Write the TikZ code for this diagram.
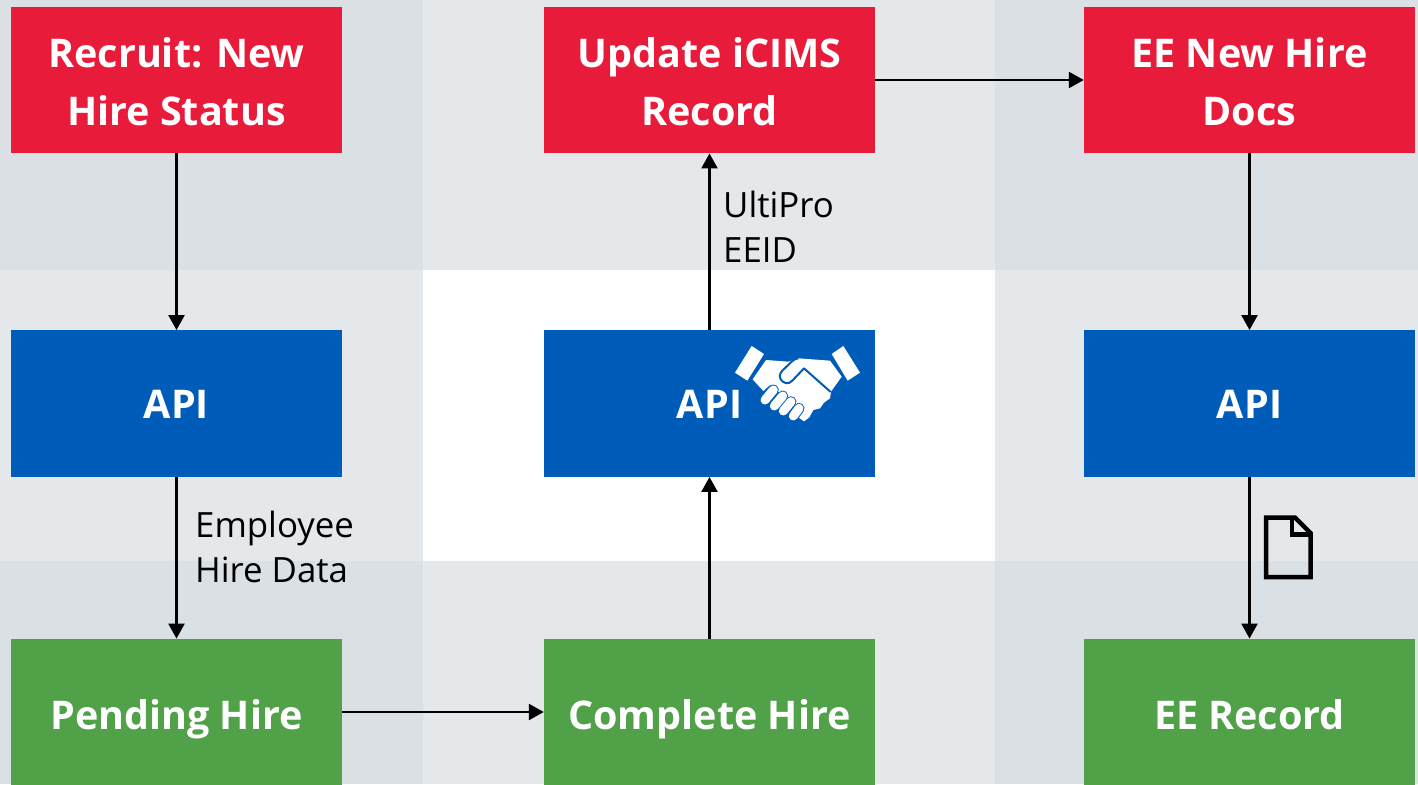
\documentclass[tikz,border=0pt]{standalone}
\usepackage{fontspec}
\setmainfont{Open Sans}
\usetikzlibrary{arrows.meta}
\definecolor{bgdark}{HTML}{DAE0E4}
\definecolor{bglight}{HTML}{E4E8EB}
\definecolor{redbox}{HTML}{E81B3A}
\definecolor{bluebox}{HTML}{005CB9}
\definecolor{greenbox}{HTML}{51A149}
\newcommand\dropln[1]{\raisebox{-2pt}[\height][\depth]{#1}}
\tikzset{
  x=1pt,y=-1pt,
  flowbox/.style={minimum width=331pt,minimum height=146.5pt,inner sep=0pt,align=center,text=white,
    font=\fontsize{39.5}{58}\selectfont\bfseries},
  redflow/.style={flowbox,fill=redbox},
  blueflow/.style={flowbox,fill=bluebox,text height=29pt,text depth=0pt},
  greenflow/.style={flowbox,fill=greenbox,text height=34pt,text depth=0pt},
  conn/.style={black,line width=2.4pt,-{Triangle[length=15pt,width=16pt]}},
  lbl/.style={anchor=west,align=left,inner sep=0pt,text=black,font=\fontsize{34.8}{45}\selectfont},
}
\begin{document}
\begin{tikzpicture}
\useasboundingbox (0,0) rectangle (1418,784);
% background grid
\fill[bglight] (0,0) rectangle (1418,784);
\fill[bgdark] (0,0) rectangle (423,270);
\fill[bgdark] (995,0) rectangle (1418,270);
\fill[bgdark] (0,561) rectangle (423,784);
\fill[bgdark] (995,561) rectangle (1418,784);
\fill[white] (423,270) rectangle (995,561);
% boxes
\node[redflow] (recruit) at (176.5,80) {\dropln{Recruit: New}\\\dropln{Hire Status}};
\node[redflow] (update) at (709.5,80) {\dropln{Update iCIMS}\\\dropln{Record}};
\node[redflow] (docs) at (1249.5,80) {\dropln{EE New Hire}\\\dropln{Docs}};
\node[blueflow] (api1) at (176.5,403.5) {API};
\node[blueflow] (api2) at (709.5,403.5) {API};
\node[blueflow] (api3) at (1249.5,403.5) {API};
\node[greenflow] (pending) at (176.5,712) {Pending Hire};
\node[greenflow] (complete) at (709.5,712) {Complete Hire};
\node[greenflow] (eerec) at (1249.5,712) {EE Record};
% connectors
\draw[conn] (recruit) -- (api1);
\draw[conn] (api1) -- (pending);
\draw[conn] (pending) -- (complete);
\draw[conn] (complete) -- (api2);
\draw[conn] (api2) -- (update);
\draw[conn] (update) -- (docs);
\draw[conn] (docs) -- (api3);
\draw[conn] (api3) -- (eerec);
% labels
\node[lbl] (hiredata) at (195,547) {Employee\\Hire Data};
\node[lbl] (eeid) at (723,227) {UltiPro\\EEID};
% document icon
\draw[black,line width=4.5pt,miter limit=10,line join=miter]
  (1266,517.5) -- (1295,517.5) -- (1310.5,533) -- (1310.5,577) -- (1266,577) -- cycle;
\draw[black,line width=4.5pt] (1292,517.5) -- (1292,534.5) -- (1309,534.5);
% handshake icon
\begin{scope}[shift={(730,330)},x=0.3333pt,y=-0.3333pt]
  \fill[white] (65,48) -- (102,72) -- (52,152) -- (15,128) -- cycle;
  \fill[white] (340,48) -- (305,72) -- (353,152) -- (390,128) -- cycle;
  \fill[white] (108,90) -- (175,95) -- (205,85) -- (300,92) -- (335,140) -- (303,185)
     -- (300,205) -- (282,218) -- (270,235) -- (250,240) -- (238,262) -- (222,274)
     -- (205,262) -- (150,190) -- (120,165) -- (100,183) -- (68,148) -- cycle;
  \draw[bluebox,line width=2pt,line join=round,fill=white]
     (302,186) -- (222,115) -- (187,152) .. controls (175,165) and (160,160) .. (152,148)
     .. controls (147,138) and (150,130) .. (157,122) -- (185,95) .. controls (192,88) and (198,85) .. (205,85);
  \draw[bluebox,line width=11pt,line cap=round] (105,210) -- (130,180);
  \draw[bluebox,line width=11pt,line cap=round] (133,228) -- (158,198);
  \draw[bluebox,line width=11pt,line cap=round] (160,243) -- (183,215);
  \draw[bluebox,line width=11pt,line cap=round] (190,258) -- (207,235);
  \draw[white,line width=9pt,line cap=round] (105,210) -- (130,180);
  \draw[white,line width=9pt,line cap=round] (133,228) -- (158,198);
  \draw[white,line width=9pt,line cap=round] (160,243) -- (183,215);
  \draw[white,line width=9pt,line cap=round] (190,258) -- (207,235);
\end{scope}
\end{tikzpicture}
\end{document}
